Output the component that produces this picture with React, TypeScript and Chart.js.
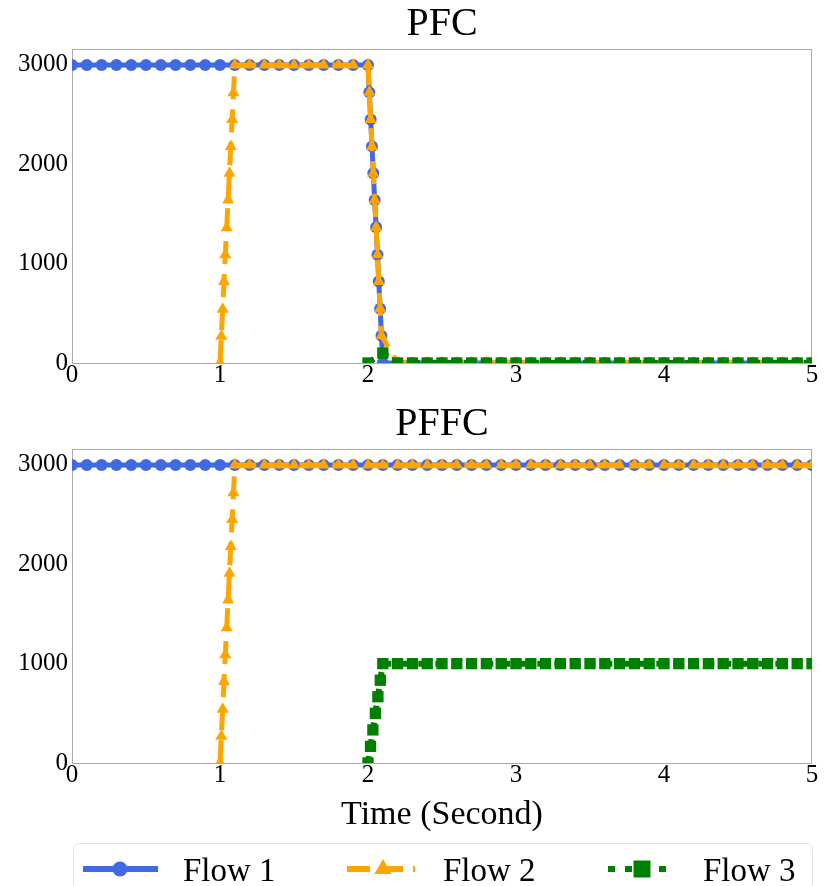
import React, { useEffect, useRef } from 'react';
import { Chart, registerables } from 'chart.js';

Chart.register(...registerables);

const FONT = '"Liberation Serif", "Times New Roman", Times, serif';

// ---------- axes / labels ----------
const X_TICKS = [0, 1, 2, 3, 4, 5];
const Y_TICKS = [0, 1000, 2000, 3000];
const Y_MAX = 3160;
const SERIES_NAMES = ['Flow 1', 'Flow 2', 'Flow 3'];
const TITLES = ['PFC', 'PFFC'];
const X_TITLE = 'Time (Second)';

// ---------- PFC ----------
const PFC_FLOW1_T = [
  0, 0.1, 0.2, 0.3, 0.4, 0.5, 0.6, 0.7, 0.8, 0.9,
  1.0, 1.1, 1.2, 1.3, 1.4, 1.5, 1.6, 1.7, 1.8, 1.9,
  2.0, 2.009, 2.018, 2.027, 2.036, 2.045, 2.055, 2.064, 2.073, 2.082,
  2.091, 2.1, 2.2, 2.3, 2.4, 2.5, 2.6, 2.7, 2.8, 2.9,
  3.0, 3.1, 3.2, 3.3, 3.4, 3.5, 3.6, 3.7, 3.8, 3.9,
  4.0, 4.1, 4.2, 4.3, 4.4, 4.5, 4.6, 4.7, 4.8, 4.9,
  5.0,
];
const PFC_FLOW1_V = [
  3000, 3000, 3000, 3000, 3000, 3000, 3000, 3000, 3000, 3000,
  3000, 3000, 3000, 3000, 3000, 3000, 3000, 3000, 3000, 3000,
  3000, 2725, 2450, 2180, 1910, 1640, 1365, 1090, 820, 545,
  275, 0, 0, 0, 0, 0, 0, 0, 0, 0,
  0, 0, 0, 0, 0, 0, 0, 0, 0, 0,
  0, 0, 0, 0, 0, 0, 0, 0, 0, 0,
  0,
];
const PFC_FLOW2_T = [
  1.0, 1.009, 1.018, 1.027, 1.036, 1.045, 1.055, 1.064, 1.073, 1.082,
  1.091, 1.1, 1.2, 1.3, 1.4, 1.5, 1.6, 1.7, 1.8, 1.9,
  2.0, 2.009, 2.018, 2.027, 2.036, 2.045, 2.055, 2.064, 2.073, 2.082,
  2.091, 2.2, 2.3, 2.4, 2.5, 2.6, 2.7, 2.8, 2.9, 3.0,
  3.1, 3.2, 3.3, 3.4, 3.5, 3.6, 3.7, 3.8, 3.9, 4.0,
  4.1, 4.2, 4.3, 4.4, 4.5, 4.6, 4.7, 4.8, 4.9, 5.0,
];
const PFC_FLOW2_V = [
  0, 270, 540, 820, 1090, 1360, 1640, 1910, 2180, 2450,
  2720, 3000, 3000, 3000, 3000, 3000, 3000, 3000, 3000, 3000,
  3000, 2725, 2450, 2180, 1910, 1640, 1365, 1090, 820, 545,
  275, 0, 0, 0, 0, 0, 0, 0, 0, 0,
  0, 0, 0, 0, 0, 0, 0, 0, 0, 0,
  0, 0, 0, 0, 0, 0, 0, 0, 0, 0,
];
const PFC_FLOW3_T = [
  2.0, 2.1, 2.2, 2.3, 2.4, 2.5, 2.6, 2.7, 2.8, 2.9,
  3.0, 3.1, 3.2, 3.3, 3.4, 3.5, 3.6, 3.7, 3.8, 3.9,
  4.0, 4.1, 4.2, 4.3, 4.4, 4.5, 4.6, 4.7, 4.8, 4.9,
  5.0,
];
const PFC_FLOW3_V = [
  0, 100, 0, 0, 0, 0, 0, 0, 0, 0,
  0, 0, 0, 0, 0, 0, 0, 0, 0, 0,
  0, 0, 0, 0, 0, 0, 0, 0, 0, 0,
  0,
];

// ---------- PFFC ----------
const PFFC_FLOW1_T = [
  0, 0.1, 0.2, 0.3, 0.4, 0.5, 0.6, 0.7, 0.8, 0.9,
  1.0, 1.1, 1.2, 1.3, 1.4, 1.5, 1.6, 1.7, 1.8, 1.9,
  2.0, 2.1, 2.2, 2.3, 2.4, 2.5, 2.6, 2.7, 2.8, 2.9,
  3.0, 3.1, 3.2, 3.3, 3.4, 3.5, 3.6, 3.7, 3.8, 3.9,
  4.0, 4.1, 4.2, 4.3, 4.4, 4.5, 4.6, 4.7, 4.8, 4.9,
  5.0,
];
const PFFC_FLOW1_V = [
  3000, 3000, 3000, 3000, 3000, 3000, 3000, 3000, 3000, 3000,
  3000, 3000, 3000, 3000, 3000, 3000, 3000, 3000, 3000, 3000,
  3000, 3000, 3000, 3000, 3000, 3000, 3000, 3000, 3000, 3000,
  3000, 3000, 3000, 3000, 3000, 3000, 3000, 3000, 3000, 3000,
  3000, 3000, 3000, 3000, 3000, 3000, 3000, 3000, 3000, 3000,
  3000,
];
const PFFC_FLOW2_T = [
  1.0, 1.009, 1.018, 1.027, 1.036, 1.045, 1.055, 1.064, 1.073, 1.082,
  1.091, 1.1, 1.2, 1.3, 1.4, 1.5, 1.6, 1.7, 1.8, 1.9,
  2.0, 2.1, 2.2, 2.3, 2.4, 2.5, 2.6, 2.7, 2.8, 2.9,
  3.0, 3.1, 3.2, 3.3, 3.4, 3.5, 3.6, 3.7, 3.8, 3.9,
  4.0, 4.1, 4.2, 4.3, 4.4, 4.5, 4.6, 4.7, 4.8, 4.9,
  5.0,
];
const PFFC_FLOW2_V = [
  0, 270, 540, 820, 1090, 1360, 1640, 1910, 2180, 2450,
  2720, 3000, 3000, 3000, 3000, 3000, 3000, 3000, 3000, 3000,
  3000, 3000, 3000, 3000, 3000, 3000, 3000, 3000, 3000, 3000,
  3000, 3000, 3000, 3000, 3000, 3000, 3000, 3000, 3000, 3000,
  3000, 3000, 3000, 3000, 3000, 3000, 3000, 3000, 3000, 3000,
  3000,
];
const PFFC_FLOW3_T = [
  2.0, 2.017, 2.033, 2.05, 2.067, 2.083, 2.1, 2.2, 2.3, 2.4,
  2.5, 2.6, 2.7, 2.8, 2.9, 3.0, 3.1, 3.2, 3.3, 3.4,
  3.5, 3.6, 3.7, 3.8, 3.9, 4.0, 4.1, 4.2, 4.3, 4.4,
  4.5, 4.6, 4.7, 4.8, 4.9, 5.0,
];
const PFFC_FLOW3_V = [
  0, 167, 333, 500, 667, 833, 1000, 1000, 1000, 1000,
  1000, 1000, 1000, 1000, 1000, 1000, 1000, 1000, 1000, 1000,
  1000, 1000, 1000, 1000, 1000, 1000, 1000, 1000, 1000, 1000,
  1000, 1000, 1000, 1000, 1000, 1000,
];

// ---------- styles ----------
const STYLES = [
  { color: '#4169E1', width: 5, dash: [] as number[], point: 'circle', radius: 6, order: 3 },
  { color: '#FFA500', width: 5, dash: [23, 10], point: 'triangle', radius: 7, order: 2 },
  { color: '#008000', width: 6, dash: [7, 10], point: 'rect', radius: 8, order: 1 },
];

function toPoints(t: number[], v: number[]) {
  return t.map((x, i) => ({ x, y: v[i] }));
}

function buildDatasets(series: { t: number[]; v: number[] }[]) {
  return series.map((s, i) => {
    const st = STYLES[i];
    return {
      label: SERIES_NAMES[i],
      data: toPoints(s.t, s.v),
      borderColor: st.color,
      backgroundColor: st.color,
      borderWidth: st.width,
      borderDash: st.dash,
      pointStyle: st.point,
      pointRadius: st.radius,
      pointBorderWidth: 0,
      pointBackgroundColor: st.color,
      pointBorderColor: st.color,
      order: st.order,
      clip: 0,
      tension: 0,
      fill: false,
    };
  });
}

const framePlugin = {
  id: 'frameBox',
  beforeDatasetsDraw(chart: any) {
    const { ctx, chartArea: a } = chart;
    ctx.save();
    ctx.strokeStyle = '#aaaaaa';
    ctx.lineWidth = 1;
    ctx.strokeRect(a.left + 0.5, a.top + 0.5, a.right - a.left - 1, a.bottom - a.top);
    ctx.restore();
  },
};

const LEGEND_LAYOUT = [
  { x0: 83, x1: 158, mark: 120, text: 183, size: 7.5 },
  { x0: 347, x1: 415, mark: 383, text: 443, size: 10 },
  { x0: 608, x1: 676, mark: 642, text: 703, size: 8.5 },
];

const legendPlugin = {
  id: 'flowLegend',
  afterDraw(chart: any) {
    const { ctx, chartArea } = chart;
    const top = chartArea.bottom + 80;
    ctx.save();
    ctx.strokeStyle = '#e4e4e4';
    ctx.lineWidth = 1;
    ctx.beginPath();
    ctx.roundRect(73.5, top + 0.5, 739, 80, 6);
    ctx.stroke();
    const ly = top + 26;
    LEGEND_LAYOUT.forEach((L, i) => {
      const st = STYLES[i];
      ctx.strokeStyle = st.color;
      ctx.fillStyle = st.color;
      ctx.lineWidth = 6;
      ctx.setLineDash(st.dash);
      ctx.beginPath();
      ctx.moveTo(L.x0, ly);
      ctx.lineTo(L.x1, ly);
      ctx.stroke();
      ctx.setLineDash([]);
      ctx.beginPath();
      if (st.point === 'circle') {
        ctx.arc(L.mark, ly, L.size, 0, Math.PI * 2);
      } else if (st.point === 'triangle') {
        const r = L.size;
        ctx.moveTo(L.mark, ly - r);
        ctx.lineTo(L.mark + r * 0.866, ly + r * 0.5);
        ctx.lineTo(L.mark - r * 0.866, ly + r * 0.5);
        ctx.closePath();
      } else {
        ctx.rect(L.mark - L.size, ly - L.size, L.size * 2, L.size * 2);
      }
      ctx.fill();
      ctx.fillStyle = '#000';
      ctx.font = `33px ${FONT}`;
      ctx.textBaseline = 'alphabetic';
      ctx.textAlign = 'left';
      ctx.fillText(SERIES_NAMES[i], L.text, top + 38);
    });
    ctx.restore();
  },
};

function makeConfig(title: string, series: { t: number[]; v: number[] }[], bottom: boolean): any {
  return {
    type: 'line',
    data: { datasets: buildDatasets(series) },
    plugins: bottom ? [framePlugin, legendPlugin] : [framePlugin],
    options: {
      responsive: false,
      animation: false,
      devicePixelRatio: 1,
      layout: { padding: { left: 0, right: 21, top: 0, bottom: bottom ? 43 : 0 } },
      plugins: {
        legend: { display: false },
        tooltip: { enabled: false },
        title: {
          display: true,
          text: title,
          fullSize: false,
          color: '#000',
          font: { family: FONT, size: 40, weight: 'normal', lineHeight: 1.2 },
          padding: { top: 0, bottom: 1 },
        },
      },
      scales: {
        x: {
          type: 'linear',
          min: 0,
          max: 5,
          afterBuildTicks: (s: any) => {
            s.ticks = X_TICKS.map((v) => ({ value: v }));
          },
          afterFit: (s: any) => {
            s.height = bottom ? 80 : 37;
          },
          grid: { display: false, drawTicks: false },
          border: { display: false },
          ticks: {
            color: '#000',
            font: { family: FONT, size: 25 },
            padding: -3,
            maxRotation: 0,
            autoSkip: false,
            callback: (v: any) => String(v),
          },
          title: {
            display: bottom,
            text: X_TITLE,
            color: '#000',
            font: { family: FONT, size: 34, weight: 'normal', lineHeight: 1.2 },
            padding: { top: 0, bottom: 8 },
          },
        },
        y: {
          type: 'linear',
          min: 0,
          max: Y_MAX,
          afterBuildTicks: (s: any) => {
            s.ticks = Y_TICKS.map((v) => ({ value: v }));
          },
          afterFit: (s: any) => {
            s.width = 72;
          },
          grid: { display: false, drawTicks: false },
          border: { display: false },
          ticks: {
            color: '#000',
            font: { family: FONT, size: 25 },
            padding: 4,
            autoSkip: false,
            callback: (v: any) => String(v),
          },
        },
      },
    },
  };
}

export default function App() {
  const topRef = useRef<HTMLCanvasElement>(null);
  const botRef = useRef<HTMLCanvasElement>(null);

  useEffect(() => {
    const c1 = new Chart(
      topRef.current as HTMLCanvasElement,
      makeConfig(TITLES[0], [
        { t: PFC_FLOW1_T, v: PFC_FLOW1_V },
        { t: PFC_FLOW2_T, v: PFC_FLOW2_V },
        { t: PFC_FLOW3_T, v: PFC_FLOW3_V },
      ], false)
    );
    const c2 = new Chart(
      botRef.current as HTMLCanvasElement,
      makeConfig(TITLES[1], [
        { t: PFFC_FLOW1_T, v: PFFC_FLOW1_V },
        { t: PFFC_FLOW2_T, v: PFFC_FLOW2_V },
        { t: PFFC_FLOW3_T, v: PFFC_FLOW3_V },
      ], true)
    );
    return () => {
      c1.destroy();
      c2.destroy();
    };
  }, []);

  return (
    <div style={{ position: 'absolute', left: 0, top: 0, width: 833, height: 886, background: '#fff', overflow: 'hidden' }}>
      <canvas
        ref={topRef}
        width={833}
        height={400}
        style={{ position: 'absolute', left: 0, top: 0, width: '833px', height: '400px' }}
      />
      <canvas
        ref={botRef}
        width={833}
        height={486}
        style={{ position: 'absolute', left: 0, top: 400, width: '833px', height: '486px' }}
      />
    </div>
  );
}
